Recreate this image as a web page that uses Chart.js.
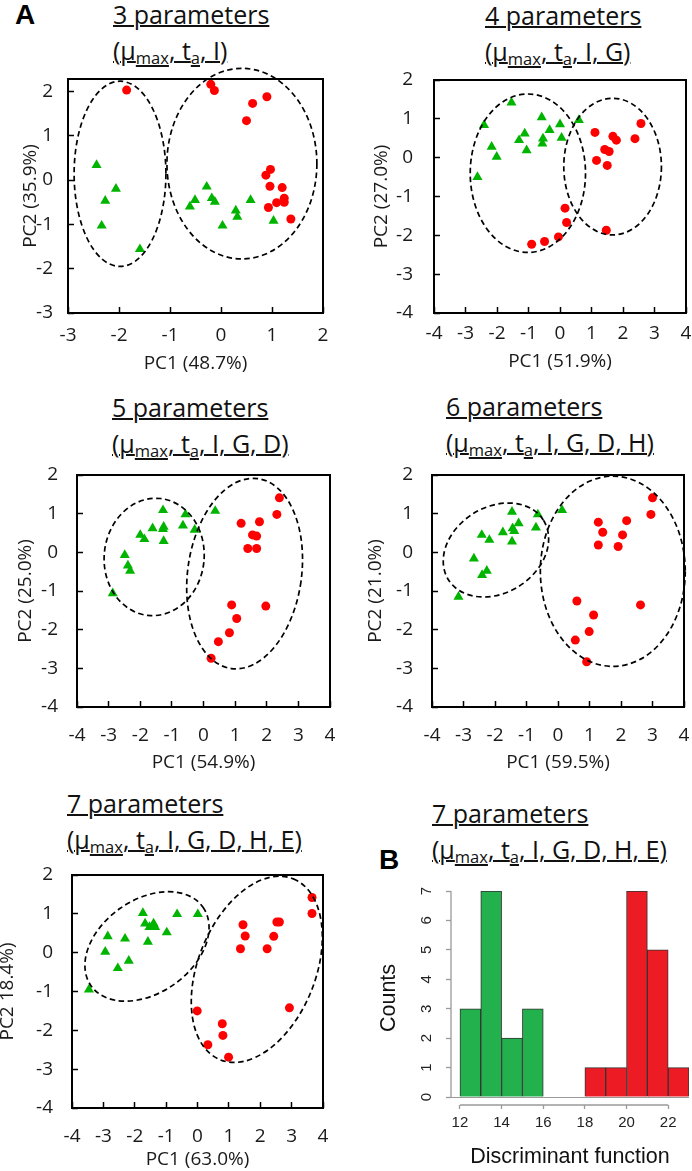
<!DOCTYPE html>
<html>
<head>
<meta charset="utf-8">
<script src="https://cdn.jsdelivr.net/npm/chart.js@4.4.0/dist/chart.umd.min.js"></script>
<style>
  body { margin: 0; background: #fff; }
  #fig { position: relative; width: 692px; height: 1171px; overflow: hidden; }
  canvas { position: absolute; }
  .ttl { position: absolute; font-family: 'Open Sans', sans-serif; font-size: 25px; line-height: 35.5px; color: #111; white-space: nowrap; }
  .ttl span, .ttl sub { text-decoration: underline; text-decoration-thickness: 1.5px; }
  .ttl sub { font-size: 16.5px; vertical-align: -4px; line-height: 0; }
  .tag { position: absolute; font-family: 'Liberation Sans', Arial, sans-serif; font-weight: bold; font-size: 28px; line-height: 28px; }
</style>
</head>
<body>
<div id="fig">
  <div class="tag" style="left:15px;top:1px">A</div>
  <div class="tag" style="left:379px;top:846px">B</div>

  <div class="ttl" style="left:113px;top:-3px">
    <div><span>3 parameters</span></div>
    <div><span>(μ</span><sub>max</sub><span>, t</span><sub>a</sub><span>, I)</span></div>
  </div>
  <div class="ttl" style="left:485px;top:-2px">
    <div><span>4 parameters</span></div>
    <div><span>(μ</span><sub>max</sub><span>, t</span><sub>a</sub><span>, I, G)</span></div>
  </div>
  <div class="ttl" style="left:112px;top:390px">
    <div><span>5 parameters</span></div>
    <div><span>(μ</span><sub>max</sub><span>, t</span><sub>a</sub><span>, I, G, D)</span></div>
  </div>
  <div class="ttl" style="left:446px;top:389px">
    <div><span>6 parameters</span></div>
    <div><span>(μ</span><sub>max</sub><span>, t</span><sub>a</sub><span>, I, G, D, H)</span></div>
  </div>
  <div class="ttl" style="left:67px;top:786px">
    <div><span>7 parameters</span></div>
    <div><span>(μ</span><sub>max</sub><span>, t</span><sub>a</sub><span>, I, G, D, H, E)</span></div>
  </div>
  <div class="ttl" style="left:432px;top:796px">
    <div><span>7 parameters</span></div>
    <div><span>(μ</span><sub>max</sub><span>, t</span><sub>a</sub><span>, I, G, D, H, E)</span></div>
  </div>

  <canvas id="c1" width="321" height="315" style="left:19px;top:60px"></canvas>
  <canvas id="c2" width="322" height="313" style="left:370px;top:60px"></canvas>
  <canvas id="c3" width="331" height="319" style="left:14px;top:455px"></canvas>
  <canvas id="c4" width="328" height="319" style="left:364px;top:455px"></canvas>
  <canvas id="c5" width="344" height="316" style="left:-4px;top:855px"></canvas>
  <canvas id="c6" width="316" height="290" style="left:376px;top:880px"></canvas>
</div>

<script>
// ---- data (PC1, PC2 scores) ----
const p3Green = [[-2.44,0.34],[-2.06,-0.2],[-2.27,-0.47],[-2.34,-1.03],[-1.59,-1.56],[-0.28,-0.15],[-0.51,-0.45],[-0.61,-0.6],[-0.18,-0.41],[-0.12,-0.49],[0.03,-1.03],[0.29,-0.69],[0.32,-0.83],[0.58,-0.45],[1.03,-0.92]];
const p3Red = [[-1.85,2.03],[-0.2,2.16],[-0.13,2.02],[0.62,1.73],[0.5,1.34],[0.9,1.88],[0.97,0.24],[0.88,0.11],[0.96,-0.14],[1.2,-0.17],[1.24,-0.41],[1.24,-0.5],[1.09,-0.51],[0.93,-0.62],[1.37,-0.88]];
const p3Ellipses = [[-1.98,0.14,0.9,2.09,0],[0.41,0.37,1.47,2.15,0]];

const p4Green = [[-2.62,-0.5],[-2.41,0.84],[-2.17,0.28],[-2.01,0.02],[-1.54,1.42],[-1.3,0.45],[-1.12,0.62],[-1.06,0.19],[-0.58,1.04],[-0.33,0.71],[-0.54,0.49],[-0.56,0.36],[0,0.86],[0.05,0.51],[0.6,0.97]];
const p4Red = [[1.11,0.65],[1.16,-0.07],[1.42,0.21],[1.56,0.16],[1.5,-0.2],[1.68,0.55],[1.79,0.45],[2.38,0.49],[2.57,0.88],[0.16,-1.3],[0.21,-1.67],[-0.05,-2.04],[-0.49,-2.16],[-0.9,-2.23],[1.47,-1.87]];
const p4Ellipses = [[-1.02,-0.4,1.83,2.04,0],[1.67,-0.23,1.55,1.76,0]];

const p5Green = [[-2.87,-1.06],[-2.49,-0.07],[-2.39,-0.34],[-2.32,-0.48],[-2.0,0.45],[-1.87,0.34],[-1.61,0.62],[-1.28,1.09],[-1.26,0.66],[-1.28,0.6],[-1.26,0.29],[-0.65,0.69],[-0.57,0.98],[-0.28,0.58],[0.37,1.07]];
const p5Red = [[2.4,1.41],[2.32,0.98],[1.19,0.75],[1.77,0.79],[1.55,0.45],[1.68,0.42],[1.4,0.1],[1.68,0.1],[0.89,-1.36],[1.05,-1.71],[1.97,-1.39],[0.82,-2.08],[0.47,-2.31],[0.24,-2.74]];
const p5Ellipses = [[-1.56,-0.12,1.58,1.52,-6],[1.3,-0.55,1.8,2.48,-8]];

const p6Green = [[-3.16,-1.15],[-2.67,-0.16],[-2.42,0.45],[-2.18,0.32],[-2.41,-0.59],[-2.26,-0.48],[-1.75,0.52],[-1.46,1.05],[-1.44,0.62],[-1.39,0.55],[-1.25,0.75],[-1.46,0.28],[-0.64,0.98],[-0.7,0.64],[0.13,1.09]];
const p6Red = [[3.0,1.41],[2.95,0.98],[1.28,0.78],[1.42,0.52],[1.28,0.19],[2.18,0.82],[2.05,0.45],[1.91,0.15],[0.6,-1.26],[1.13,-1.62],[0.99,-2.05],[0.55,-2.27],[0.91,-2.83],[2.62,-1.36]];
const p6Ellipses = [[-1.97,0.06,1.78,1.11,32],[1.74,-0.49,2.3,2.46,0]];

const p7Green = [[-3.46,-0.95],[-2.94,0.02],[-2.86,0.42],[-2.54,-0.4],[-2.31,0.36],[-2.19,-0.21],[-1.74,1.02],[-1.67,0.75],[-1.58,0.28],[-1.53,0.66],[-1.4,0.75],[-1.35,0.66],[-0.98,0.52],[-0.65,0.99],[0.01,0.99]];
const p7Red = [[3.65,1.42],[3.65,1.01],[1.45,0.72],[1.52,0.43],[1.37,0.1],[2.53,0.79],[2.61,0.79],[2.43,0.42],[2.22,0.1],[-0.01,-1.5],[0.79,-1.83],[0.81,-2.13],[0.33,-2.37],[0.99,-2.69],[2.93,-1.42]];
const p7Ellipses = [[-1.61,0.16,2.18,1.2,35],[1.89,-0.43,3.11,1.51,68]];

const ticksA = [-3, -2, -1, 0, 1, 2];
const ticksX8 = [-4, -3, -2, -1, 0, 1, 2, 3, 4];
const ticksY6 = [-4, -3, -2, -1, 0, 1, 2];

// histogram of the discriminant function (7 parameters)
const binStarts = [12, 13, 14, 15, 16, 17, 18, 19, 20, 21, 22];
const binCounts = [3, 7, 2, 3, 0, 0, 1, 1, 7, 5, 1];
const histXTicks = [12, 14, 16, 18, 20, 22];
const histYTicks = [0, 1, 2, 3, 4, 5, 6, 7];

const GREEN = '#00b400';
const RED = '#ff0000';
const BAR_GREEN = '#22b14c';
const BAR_RED = '#ed1c24';
const INK = '#1a1a1a';
const AX_GREY = '#9a9a9a';

Chart.defaults.font.family = "'Open Sans', sans-serif";

// box round the plot + dashed cluster ellipses
const pcaFrame = {
  id: 'pcaFrame',
  afterDraw(chart, args, opts) {
    const { ctx, chartArea: a, scales: { x, y } } = chart;
    ctx.save();
    ctx.strokeStyle = '#000';
    ctx.setLineDash([5.5, 3.5]);
    ctx.lineWidth = 1.7;
    (opts.ellipses || []).forEach(([cx, cy, rx, ry, rot]) => {
      const px = x.getPixelForValue(cx), py = y.getPixelForValue(cy);
      const ax = Math.abs(x.getPixelForValue(cx + rx) - px);
      const by = Math.abs(y.getPixelForValue(cy + ry) - py);
      ctx.beginPath();
      ctx.ellipse(px, py, ax, by, -rot * Math.PI / 180, 0, 2 * Math.PI);
      ctx.stroke();
    });
    ctx.setLineDash([]);
    ctx.lineWidth = 2;
    ctx.strokeRect(a.left, a.top, a.right - a.left, a.bottom - a.top);
    ctx.restore();
  }
};

function toXY(list) {
  return list.map(p => ({ x: p[0], y: p[1] }));
}

// keep the chart area where we put it: no extra room for label overhang
function noOverhang(ax) {
  ax.paddingTop = 0;
  ax.paddingBottom = 0;
  ax.paddingLeft = 0;
  ax.paddingRight = 0;
}

function scatterPanel(id, s) {
  new Chart(document.getElementById(id), {
    type: 'scatter',
    data: {
      datasets: [
        { data: toXY(s.green), pointStyle: 'triangle', pointRadius: 5.8, backgroundColor: GREEN, borderWidth: 0 },
        { data: toXY(s.red), pointStyle: 'circle', pointRadius: 4.5, backgroundColor: RED, borderWidth: 0 }
      ]
    },
    options: {
      responsive: false,
      animation: false,
      events: [],
      layout: { padding: { top: s.padTop, right: s.padRight, left: 0, bottom: 0 } },
      plugins: {
        legend: { display: false },
        tooltip: { enabled: false },
        pcaFrame: { ellipses: s.ellipses }
      },
      scales: {
        x: {
          type: 'linear',
          min: s.xTicks[0],
          max: s.xTicks[s.xTicks.length - 1],
          afterBuildTicks: ax => { ax.ticks = s.xTicks.map(v => ({ value: v })); },
          afterFit: ax => { ax.height = s.xAxisH; noOverhang(ax); },
          grid: { drawOnChartArea: false, tickLength: -6, tickColor: '#000', tickWidth: 1.5 },
          border: { display: false },
          ticks: { padding: s.xPad, color: INK, font: { size: 19 }, autoSkip: false, maxRotation: 0 },
          title: { display: true, text: s.xTitle, color: INK, font: { size: 19 }, padding: 0 }
        },
        y: {
          type: 'linear',
          min: s.yTicks[0],
          max: s.yMax,
          afterBuildTicks: ax => { ax.ticks = s.yTicks.map(v => ({ value: v })); },
          afterFit: ax => { ax.width = s.yAxisW; noOverhang(ax); },
          grid: { drawOnChartArea: false, tickLength: -6, tickColor: '#000', tickWidth: 1.5 },
          border: { display: false },
          ticks: { padding: s.yPad, color: INK, font: { size: 19 }, autoSkip: false },
          title: { display: true, text: s.yTitle, color: INK, font: { size: 19 }, padding: 0 }
        }
      }
    },
    plugins: [pcaFrame]
  });
}

scatterPanel('c1', { green: p3Green, red: p3Red, ellipses: p3Ellipses, xTicks: ticksA, yTicks: [-3, -2, -1, 0, 1, 2], yMax: 2.28,
  xTitle: 'PC1 (48.7%)', yTitle: 'PC2 (35.9%)', padTop: 19, padRight: 17, yAxisW: 49, xAxisH: 62, xPad: 17.6, yPad: 21 });
scatterPanel('c2', { green: p4Green, red: p4Red, ellipses: p4Ellipses, xTicks: ticksX8, yTicks: ticksY6, yMax: 2,
  xTitle: 'PC1 (51.9%)', yTitle: 'PC2 (27.0%)', padTop: 20, padRight: 6, yAxisW: 64, xAxisH: 60, xPad: 15.3, yPad: 27 });
scatterPanel('c3', { green: p5Green, red: p5Red, ellipses: p5Ellipses, xTicks: ticksX8, yTicks: ticksY6, yMax: 2,
  xTitle: 'PC1 (54.9%)', yTitle: 'PC2 (25.0%)', padTop: 20, padRight: 15, yAxisW: 63, xAxisH: 67, xPad: 23.6, yPad: 25 });
scatterPanel('c4', { green: p6Green, red: p6Red, ellipses: p6Ellipses, xTicks: ticksX8, yTicks: ticksY6, yMax: 2,
  xTitle: 'PC1 (59.5%)', yTitle: 'PC2 (21.0%)', padTop: 20, padRight: 8, yAxisW: 68, xAxisH: 67, xPad: 23.6, yPad: 25 });
scatterPanel('c5', { green: p7Green, red: p7Red, ellipses: p7Ellipses, xTicks: ticksX8, yTicks: ticksY6, yMax: 2,
  xTitle: 'PC1 (63.0%)', yTitle: 'PC2 18.4%)', padTop: 20, padRight: 17, yAxisW: 76, xAxisH: 63, xPad: 23.3, yPad: 25 });

// R-style axis lines that stop at the first/last tick
const rAxes = {
  id: 'rAxes',
  afterDraw(chart) {
    const { ctx, chartArea: a, scales: { x, y } } = chart;
    ctx.save();
    ctx.strokeStyle = AX_GREY;
    ctx.lineWidth = 1.3;
    ctx.beginPath();
    ctx.moveTo(x.getPixelForValue(histXTicks[0]), a.bottom);
    ctx.lineTo(x.getPixelForValue(histXTicks[histXTicks.length - 1]), a.bottom);
    ctx.moveTo(a.left, y.getPixelForValue(histYTicks[0]));
    ctx.lineTo(a.left, y.getPixelForValue(histYTicks[histYTicks.length - 1]));
    ctx.stroke();
    ctx.restore();
  }
};

const histFont = "'Liberation Sans', Arial, sans-serif";

new Chart(document.getElementById('c6'), {
  type: 'bar',
  data: {
    datasets: [{
      data: binStarts.map((b, i) => ({ x: b + 0.5, y: binCounts[i] })),
      backgroundColor: binStarts.map(b => b < 17 ? BAR_GREEN : BAR_RED),
      borderColor: '#333',
      borderWidth: 1,
      barPercentage: 1,
      categoryPercentage: 1
    }]
  },
  options: {
    responsive: false,
    animation: false,
    events: [],
    layout: { padding: { top: 11, right: 3, left: 0, bottom: 0 } },
    plugins: { legend: { display: false }, tooltip: { enabled: false } },
    scales: {
      x: {
        type: 'linear',
        min: 11.57,
        max: 23,
        offset: false,
        afterBuildTicks: ax => { ax.ticks = histXTicks.map(v => ({ value: v })); },
        afterFit: ax => { ax.height = 65; noOverhang(ax); },
        grid: { offset: false, drawOnChartArea: false, tickLength: 4, tickColor: AX_GREY, tickWidth: 1.3 },
        border: { display: false },
        ticks: { padding: 5, color: '#222', font: { family: histFont, size: 15 }, autoSkip: false, maxRotation: 0 },
        title: { display: true, text: 'Discriminant function', color: '#111', font: { family: histFont, size: 21.5 }, padding: 0 }
      },
      y: {
        type: 'linear',
        min: -0.27,
        max: 7,
        afterBuildTicks: ax => { ax.ticks = histYTicks.map(v => ({ value: v })); },
        afterFit: ax => { ax.width = 75; noOverhang(ax); },
        grid: {
          color: c => (c.tick && c.tick.value === 0) ? AX_GREY : 'rgba(0,0,0,0)',
          tickColor: AX_GREY, tickLength: 5, tickWidth: 1.3
        },
        border: { display: false },
        ticks: { padding: 14.8, color: '#222', font: { family: histFont, size: 15 }, minRotation: 90, maxRotation: 90, crossAlign: 'center', autoSkip: false },
        title: { display: true, text: 'Counts', color: '#111', font: { family: histFont, size: 21.5 }, padding: 0 }
      }
    }
  },
  plugins: [rAxes]
});
</script>
</body>
</html>
